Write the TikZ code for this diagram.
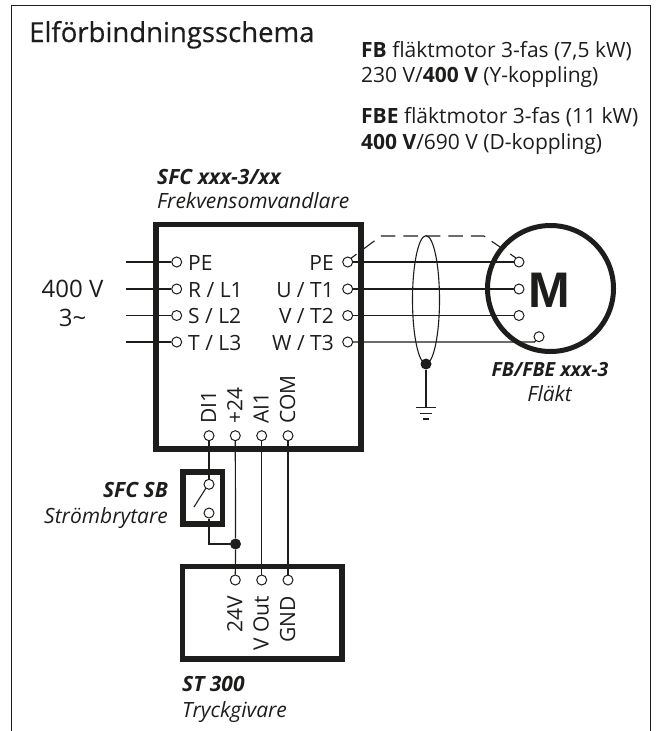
\documentclass[tikz,border=0pt]{standalone}
\usepackage{fontspec}
\setmainfont{Open Sans}
\newfontfamily\motorfont{Liberation Sans}
\newfontfamily\titlefont[FakeBold=0.4]{Open Sans}
\definecolor{ink}{HTML}{1D1D1B}
\tikzset{
  pin/.style={circle,draw=ink,fill=white,line width=1pt,inner sep=0pt,minimum size=10pt},
  wire/.style={draw=ink,line width=1.2pt},
  heavybox/.style={rectangle,draw=ink,line width=5.5pt,inner sep=0pt},
  dot/.style={circle,fill=ink,inner sep=0pt,minimum size=11pt},
  lbl/.style={text=ink,font=\fontsize{21}{21}\selectfont,inner sep=0pt},
  vlbl/.style={lbl,rotate=90},
}
\begin{document}
\begin{tikzpicture}[x=1pt,y=-1pt]
\useasboundingbox (0,0) rectangle (664,731);
\draw[ink,line width=1pt] (11,731) -- (11,5.5) -- (650,5.5) -- (650,731);
% headings
\node[lbl,anchor=base west,font=\titlefont\fontsize{27.5}{27.5}\selectfont] (title) at (29,42) {Elförbindningsschema};
\node[lbl,anchor=base west] (fbA) at (361,57) {\textbf{FB} fläktmotor 3-fas (7,5 kW)};
\node[lbl,anchor=base west] (fbB) at (361,82.7) {230 V/\textbf{400 V} (Y-koppling)};
\node[lbl,anchor=base west] (fbeA) at (361,123) {\textbf{FBE} fläktmotor 3-fas (11 kW)};
\node[lbl,anchor=base west] (fbeB) at (361,149) {\textbf{400 V}/690 V (D-koppling)};
\node[lbl,anchor=base west] (sfcA) at (157,184) {\textbf{\textit{SFC xxx-3/xx}}};
\node[lbl,anchor=base west] (sfcB) at (157,208) {\textit{Frekvensomvandlare}};
\node[lbl,anchor=base,font=\fontsize{24}{24}\selectfont] (volt) at (72.5,297) {400 V};
\node[lbl,anchor=base,font=\fontsize{24}{24}\selectfont] (phase) at (72.5,326) {3\textasciitilde};
% boxes
\node[heavybox,minimum width=205pt,minimum height=224.5pt] (sfc) at (258.5,336.75) {};
\node[heavybox,minimum width=39.5pt,minimum height=52pt] (sb) at (202.75,498) {};
\node[heavybox,minimum width=159.5pt,minimum height=92.5pt] (st) at (262.25,612.75) {};
% screen
\coordinate (scrA) at (350,259);
\coordinate (scrB) at (381,236);
\coordinate (scrC) at (484,236);
\coordinate (scrD) at (516,258);
\draw[ink,line width=1.1pt,dash pattern=on 14.5pt off 8pt,dash phase=6.5pt] (scrA) -- (scrB) -- (scrC) -- (scrD);
\node[circle,draw=ink,line width=5pt,inner sep=0pt,minimum size=126pt] (motor) at (550.5,288.5) {};
\node[text=ink,font=\motorfont\bfseries\fontsize{50}{50}\selectfont,inner sep=0pt] (mlabel) at (549.5,290) {M};
% pins on the inverter
\foreach \name/\y/\txt in {PE/262/PE,R/289/{R / L1},S/315.5/{S / L2},T/342/{T / L3}}{
  \node[pin] (in\name) at (176.7,\y) {};
  \node[lbl,anchor=base west] (txt\name) at (188,\y+8) {\txt};
  \coordinate (free\name) at (126,\y);
  \draw[wire] (free\name) -- (in\name);
}
\foreach \name/\y/\txt in {P/262/PE,U/289/{U / T1},V/315.5/{V / T2},W/342/{W / T3}}{
  \node[pin] (out\name) at (347.7,\y) {};
  \node[lbl,anchor=base east] (txt\name) at (334,\y+8) {\txt};
}
% motor terminals
\node[pin] (mP) at (519,262) {};
\node[pin] (mU) at (519,289) {};
\node[pin] (mV) at (519,315.5) {};
\node[pin] (mW) at (539,336.7) {};
\coordinate (mWend) at (534.5,342);
\draw[wire] (outP) -- (mP);
\draw[wire] (outU) -- (mU);
\draw[wire] (outV) -- (mV);
\draw[wire] (outW) -- (mWend) -- (mW);
\node[dot] (junc) at (426,364) {};
\draw[ink,line width=1.1pt] (426,299.7) ellipse (13.5pt and 64pt);
\coordinate (gnd) at (426,407.7);
\draw[wire] (junc) -- (gnd);
\draw[ink,line width=1.1pt] (416,407.7) -- (436,407.7);
\draw[ink,line width=1.1pt] (420,413.3) -- (432,413.3);
\draw[ink,line width=1.1pt] (423,419) -- (429,419);
% control pins
\foreach \name/\x/\txt in {DI/209/DI1,P/235.3/+24,A/261.7/AI1,C/288/COM}{
  \node[pin] (ctl\name) at (\x,435.7) {};
  \node[vlbl,anchor=base west] (txtc\name) at (\x+7,424) {\txt};
}
\foreach \name/\x/\txt in {P/235.3/24V,A/261.7/{V Out},C/288/GND}{
  \node[pin] (st\name) at (\x,580) {};
  \node[vlbl,anchor=base east] (txts\name) at (\x+7,596) {\txt};
}
% switch
\node[pin] (swA) at (209,484.3) {};
\node[pin] (swB) at (209,513) {};
\coordinate (bladeA) at (194,507);
\coordinate (bladeB) at (206,488);
\coordinate (bend) at (209,544);
\node[dot] (swJ) at (235.5,544) {};
\draw[wire] (ctlDI) -- (swA);
\draw[wire] (swB) -- (bend) -- (swJ);
\draw[ink,line width=1.1pt] (bladeA) -- (bladeB);
\draw[wire] (ctlP) -- (swJ) -- (stP);
\draw[wire] (ctlA) -- (stA);
\draw[wire] (ctlC) -- (stC);
% captions
\node[lbl,anchor=base,font=\fontsize{19.5}{19.5}\selectfont] (fanA) at (550,376.7) {\textbf{\textit{FB/FBE xxx-3}}};
\node[lbl,anchor=base] (fanB) at (550,401.7) {\textit{Fläkt}};
\node[lbl,anchor=base east] (sbA) at (168,497) {\textbf{\textit{SFC SB}}};
\node[lbl,anchor=base east] (sbB) at (168,523) {\textit{Strömbrytare}};
\node[lbl,anchor=base west] (stA1) at (182,691) {\textbf{\textit{ST 300}}};
\node[lbl,anchor=base west] (stB1) at (182,717) {\textit{Tryckgivare}};
\end{tikzpicture}
\end{document}
